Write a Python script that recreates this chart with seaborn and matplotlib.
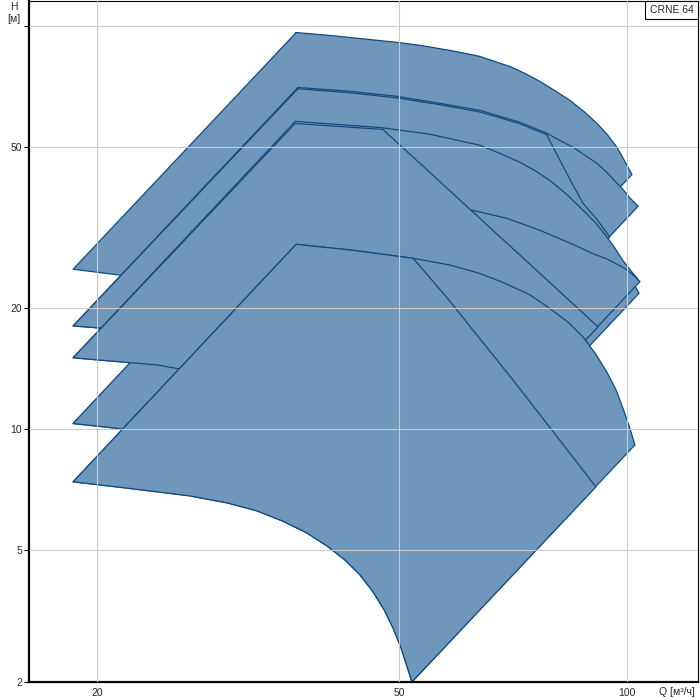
import numpy as np
import pandas as pd
import matplotlib
matplotlib.use('Agg')
import matplotlib.pyplot as plt
from matplotlib.ticker import NullLocator, NullFormatter
import seaborn as sns

# ── data (Q in m3/h, H in m) ────────────────────────────────────────
# every pump region = upper curve (left->right) + lower curve (left->right)

r1_top_q = [36.6, 40.6, 49.8, 53.3, 58.4, 61.1, 63.9, 66.9, 70.0, 73.3,
            76.7, 80.2, 84.0, 87.9, 91.2, 94.0, 96.9, 98.4, 99.9, 101.4]
r1_top_h = [96.4, 94.8, 91.1, 89.6, 87.0, 85.6, 84.1, 81.7, 79.4, 76.3,
            72.9, 69.2, 65.4, 61.1, 57.3, 53.9, 50.0, 47.5, 45.1, 42.8]
r1_bot_q = [18.6, 20.6, 29.7, 42.7, 51.5]
r1_bot_h = [24.9, 24.3, 22.3, 16.8, 11.0]

r2_top_q = [36.8, 43.1, 49.8, 56.6, 63.9, 67.9, 72.2, 78.3, 81.5,
            84.8, 87.9, 91.2, 94.0, 96.9, 98.9, 100.8, 103.3]
r2_top_h = [70.4, 68.9, 66.9, 64.3, 61.8, 59.7, 57.7, 54.2, 52.0,
            50.0, 47.8, 45.6, 43.3, 40.7, 39.1, 37.4, 35.7]
r2_bot_q = [18.6, 25.3, 36.7, 52.5]
r2_bot_h = [18.0, 17.2, 14.8, 9.16]

r2a_top_q = [36.8, 43.1, 49.8, 56.6, 63.9, 67.9, 72.2, 78.3, 84.0, 87.4, 91.2, 94.8]
r2a_top_h = [69.9, 68.3, 66.3, 63.8, 61.2, 59.2, 57.2, 53.7, 41.6, 36.3, 33.1, 29.9]

r3_top_q = [36.5, 47.2, 54.9, 63.9, 67.9, 72.2, 75.5, 79.0,
            83.2, 87.4, 90.9, 94.0, 96.3, 98.6, 101.4, 103.3]
r3_top_h = [58.0, 56.0, 53.9, 50.6, 48.3, 45.9, 43.8, 41.4,
            38.2, 34.9, 32.4, 29.9, 28.1, 26.2, 24.5, 23.5]
r3_bot_q = [18.6, 24.0, 32.5, 40.2, 47.8, 52.5]
r3_bot_h = [15.0, 14.4, 13.0, 10.6, 7.67, 6.04]

r3a_top_q = [36.5, 47.6, 56.6, 66.5, 76.7, 91.5]
r3a_top_h = [57.3, 55.4, 41.1, 31.1, 24.3, 17.9]

r4a_top_q = [36.5, 47.6, 62.4, 69.4, 76.7, 84.8, 89.3, 94.0, 99.3, 101.7, 103.9]
r4a_top_h = [40.0, 38.0, 34.9, 33.3, 31.1, 28.7, 27.4, 26.4, 25.0, 24.1, 23.2]
r4a_bot_q = [18.6, 24.2, 39.0, 52.8]
r4a_bot_h = [10.3, 9.76, 7.99, 5.97]

r4b_top_q = [36.5, 47.6, 62.4, 69.4, 76.7, 84.8, 89.3, 94.0, 99.3, 101.7, 103.6]
r4b_top_h = [39.5, 37.6, 34.5, 33.0, 30.8, 28.2, 27.0, 25.9, 24.6, 23.1, 21.7]
r4b_bot_q = [18.6, 24.2, 39.0, 52.6]
r4b_bot_h = [10.3, 9.76, 7.99, 5.57]

r5_top_q = [36.6, 43.1, 52.2, 58.4, 63.9, 68.9, 74.4, 79.0,
            83.5, 87.4, 90.9, 94.0, 96.6, 98.9, 100.8, 102.3]
r5_top_h = [28.7, 27.8, 26.5, 25.5, 24.3, 23.0, 21.5, 19.9,
            18.4, 16.9, 15.3, 13.8, 12.5, 11.1, 10.0, 9.11]
r5_bot_q = [18.6, 21.9, 26.5, 29.7, 32.5, 35.1, 37.8, 40.2,
            42.4, 44.4, 46.2, 47.8, 49.1, 50.3, 51.2, 52.0]
r5_bot_h = [7.38, 7.12, 6.81, 6.54, 6.25, 5.90, 5.51, 5.11,
            4.67, 4.21, 3.74, 3.30, 2.91, 2.54, 2.24, 2.00]

r5a_top_q = [36.6, 43.1, 52.2, 57.8, 70.7, 90.9]
r5a_top_h = [28.7, 27.8, 26.5, 21.2, 13.2, 7.17]

x_ticks = [20, 50, 100]
y_ticks = [2, 5, 10, 20, 50, 100]
y_tick_labels = ['2', '5', '10', '20', '50', '']

# drawing order matters: later regions hide the outlines of earlier ones
regions = [
    (r1_top_q, r1_top_h, r1_bot_q, r1_bot_h),
    (r2_top_q, r2_top_h, r2_bot_q, r2_bot_h),
    (r2a_top_q, r2a_top_h, r2_bot_q, r2_bot_h),
    (r3_top_q, r3_top_h, r3_bot_q, r3_bot_h),
    (r4b_top_q, r4b_top_h, r4b_bot_q, r4b_bot_h),
    (r4a_top_q, r4a_top_h, r4a_bot_q, r4a_bot_h),
    (r3a_top_q, r3a_top_h, r3_bot_q, r3_bot_h),
    (r5_top_q, r5_top_h, r5_bot_q, r5_bot_h),
    (r5a_top_q, r5a_top_h, r5_bot_q, r5_bot_h),
]

FILL = '#6f97bb'
EDGE = '#124a7f'

# ── y axis: log above 5 m, squeezed below (as in the reference) ──────
L5 = np.log10(5)
K = 332.4 / 403.0

def fwd(h):
    lg = np.log10(np.clip(np.asarray(h, dtype=float), 1e-6, None))
    return np.where(lg >= L5, lg, L5 - K * (L5 - lg))

def inv(v):
    v = np.asarray(v, dtype=float)
    return np.where(v >= L5, 10 ** v, 10 ** (L5 - (L5 - v) / K))

sns.set_theme(style='white')
plt.rcParams['font.family'] = ['Liberation Sans', 'DejaVu Sans']

fig = plt.figure(figsize=(7, 7), dpi=100)
ax = fig.add_axes([29 / 700, 18 / 700, 669 / 700, 681.5 / 700])
ax.set_xscale('log')
ax.set_yscale('function', functions=(fwd, inv))

for i, (tq, th, bq, bh) in enumerate(regions):
    q = list(tq) + list(bq)[::-1]
    h = list(th) + list(bh)[::-1]
    ax.fill(q, h, color=FILL, lw=0, zorder=1 + 0.1 * i)
    outline = pd.DataFrame({'q': q + q[:1], 'h': h + h[:1]})
    sns.lineplot(data=outline, x='q', y='h', sort=False, estimator=None,
                 color=EDGE, lw=0.9, zorder=1.05 + 0.1 * i, ax=ax)

ax.set_xlim(16.27, 123.9)
ax.set_ylim(2, 115.8)
ax.set_xlabel('')
ax.set_ylabel('')

ax.set_xticks(x_ticks)
ax.set_xticklabels([str(t) for t in x_ticks])
ax.set_yticks(y_ticks)
ax.set_yticklabels(y_tick_labels)
ax.xaxis.set_minor_locator(NullLocator())
ax.xaxis.set_minor_formatter(NullFormatter())
ax.yaxis.set_minor_locator(NullLocator())
ax.yaxis.set_minor_formatter(NullFormatter())

ax.set_axisbelow(False)
ax.grid(True, which='major', color='#cbcbcb', lw=0.8)
ax.tick_params(axis='y', length=3.5, width=0.8, pad=1.5, labelsize=7.5,
               color='black', left=True)
ax.tick_params(axis='x', length=0, pad=4, labelsize=7.5)

for side in ['left', 'bottom']:
    ax.spines[side].set_linewidth(1.6)
    ax.spines[side].set_color('black')
for side in ['top', 'right']:
    ax.spines[side].set_linewidth(0.8)
    ax.spines[side].set_color('black')

fig.text(13.5 / 700, 1 - 6.5 / 700, 'H', ha='center', va='center', fontsize=7.5)
fig.text(14 / 700, 1 - 19 / 700, '[м]', ha='center', va='center', fontsize=7.5)
fig.text(695 / 700, 1 - 692 / 700, 'Q [м³/ч]', ha='right', va='center', fontsize=7.5)

ax.annotate('CRNE 64', xy=(1, 1), xycoords='axes fraction',
            xytext=(-3.4, -3.2), textcoords='offset points',
            ha='right', va='top', fontsize=7.5, zorder=5,
            bbox=dict(boxstyle='square,pad=0.42', fc='white', ec='black', lw=0.8))

fig.savefig('out.png', dpi=100)
